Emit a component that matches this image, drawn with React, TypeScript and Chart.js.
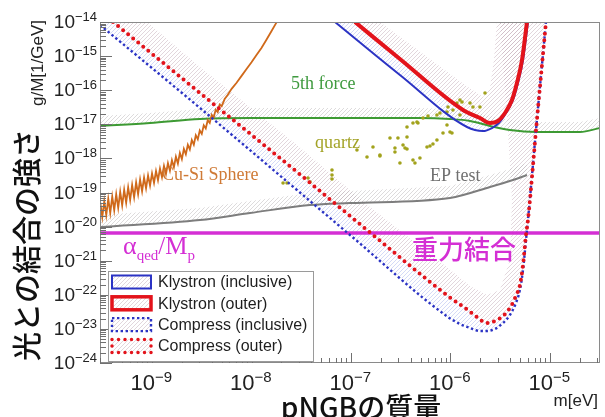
import React, { useEffect, useRef } from "react";
import { Chart, registerables } from "chart.js";

Chart.register(...registerables);

// ---------- axis ranges (log10 of mass [eV] and of g/M [1/GeV]) ----------
const massMinLog = -9.523;
const massMaxLog = -4.497;
const couplingMinLog = -24;
const couplingMaxLog = -14;

const xMajorExponents = [-9, -8, -7, -6, -5];
const xMinorDecades = [-10, -9, -8, -7, -6, -5];
const yMajorExponents = [-14, -15, -16, -17, -18, -19, -20, -21, -22, -23, -24];
const minorMantissas = [2, 3, 4, 5, 6, 7, 8, 9];

// ---------- series (log10 values) ----------
const klystronInclLogM = [-7.161, -6.508, -5.834, -5.673, -5.583, -5.513, -5.442, -5.372, -5.322, -5.271, -5.221];
const klystronInclLogG = [-14.0, -15.554, -17.079, -17.196, -17.109, -16.962, -16.669, -16.287, -15.789, -15.114, -14.0];

const klystronOuterLogM = [-6.96, -6.508, -5.874, -5.704, -5.603, -5.523, -5.452, -5.382, -5.332, -5.281, -5.231];
const klystronOuterLogG = [-14.0, -15.085, -16.581, -16.815, -16.962, -16.903, -16.669, -16.287, -15.789, -15.114, -14.0];

const compressInclLogM = [-9.523, -8.518, -7.543, -7.01, -6.025, -5.905, -5.804, -5.704, -5.633, -5.553, -5.472, -5.402, -5.342, -5.302, -5.271, -5.241, -5.221, -5.131, -5.04];
const compressInclLogG = [-14.088, -16.522, -18.927, -20.246, -22.651, -22.856, -22.973, -23.062, -23.062, -23.003, -22.827, -22.592, -22.24, -21.859, -21.273, -20.393, -19.806, -16.874, -14.0];

const compressOuterLogM = [-9.392, -8.518, -7.543, -6.839, -6.025, -5.854, -5.734, -5.633, -5.553, -5.472, -5.402, -5.342, -5.302, -5.271, -5.241, -5.221, -5.131, -5.04];
const compressOuterLogG = [-14.0, -16.082, -18.399, -20.1, -22.035, -22.387, -22.651, -22.827, -22.768, -22.622, -22.387, -22.035, -21.713, -21.126, -20.246, -19.806, -16.874, -14.0];

// inner edges of the hatched exclusion bands
const compressBandEdgeLogM = [-5.503, -5.422, -5.382, -5.402, -5.503, -5.633, -5.804, -6.025, -6.809, -7.543, -8.518, -9.05];
const compressBandEdgeLogG = [-14.0, -17.167, -19.22, -20.979, -21.859, -22.006, -21.742, -21.214, -19.425, -17.607, -15.32, -14.0];
const klystronBandEdgeLogM = [-5.533, -5.563, -5.603, -5.673, -5.854, -6.709];
const klystronBandEdgeLogG = [-14.0, -15.114, -15.935, -16.199, -15.848, -14.0];

const fifthForceLogM = [-9.523, -9.02, -8.518, -8.015, -7.513, -6.809, -6.307, -6.005, -5.804, -5.603, -5.402, -5.131, -4.698, -4.497];
const fifthForceLogG = [-17.05, -16.962, -16.845, -16.815, -16.815, -16.815, -16.815, -16.845, -16.903, -17.05, -17.167, -17.226, -17.226, -17.109];
const fifthForceBandLogG = [-16.757, -16.669, -16.551, -16.522, -16.522, -16.522, -16.522, -16.551, -16.61, -16.757, -16.874, -16.933, -16.933, -16.815];

const epTestLogM = [-9.523, -8.518, -8.015, -7.412, -7.01, -6.005, -5.603, -5.372, -5.231];
const epTestLogG = [-20.012, -19.806, -19.601, -19.367, -19.308, -19.161, -18.839, -18.633, -18.487];
const epTestBandLogG = [-19.66, -19.455, -19.249, -19.015, -18.956, -18.809, -18.487, -18.282, -18.135];

const cuSiLogM = [
  -9.52, -9.5, -9.48, -9.46, -9.44, -9.42, -9.4, -9.38, -9.36, -9.34, -9.32, -9.3, -9.28, -9.26, -9.24, -9.22, -9.2, -9.18,
  -9.16, -9.14, -9.12, -9.1, -9.08, -9.06, -9.04, -9.02, -9.0, -8.98, -8.96, -8.94, -8.92, -8.9, -8.88, -8.86, -8.84, -8.82,
  -8.8, -8.78, -8.76, -8.74, -8.72, -8.7, -8.68, -8.66, -8.64, -8.62, -8.6, -8.58, -8.56, -8.54, -8.52, -8.5, -8.48, -8.46,
  -8.44, -8.42, -8.4, -8.38, -8.36, -8.34, -8.32, -8.3, -8.27, -8.24, -8.2, -8.15, -8.1, -8.05, -8.0, -7.95, -7.9, -7.85,
  -7.8, -7.75, -7.7, -7.65,
];
const cuSiLogG = [
  -19.3, -19.72, -19.25, -19.66, -19.18, -19.6, -19.12, -19.52, -19.05, -19.45, -18.98, -19.38, -18.92, -19.3, -18.85, -19.22, -18.78, -19.14,
  -18.7, -19.05, -18.62, -18.96, -18.56, -18.88, -18.5, -18.8, -18.44, -18.72, -18.37, -18.64, -18.3, -18.55, -18.22, -18.46, -18.14, -18.36,
  -18.05, -18.26, -17.95, -18.15, -17.84, -18.02, -17.72, -17.88, -17.6, -17.74, -17.46, -17.6, -17.32, -17.44, -17.18, -17.28, -17.03, -17.12,
  -16.88, -16.96, -16.72, -16.8, -16.57, -16.64, -16.42, -16.47, -16.26, -16.14, -15.96, -15.78, -15.58, -15.38, -15.18, -14.97, -14.76, -14.52,
  -14.27, -14.02, -13.75, -13.45,
];

const quartzLogM = [
  -7.683, -7.643, -7.432, -7.412, -7.191, -7.191, -7.191, -6.94, -6.839, -6.779, -6.709, -6.608, -6.528, -6.437, -6.558, -6.477, -6.437,
  -6.508, -6.357, -6.307, -6.236, -6.206, -6.176, -6.075, -6.005, -5.985, -6.377, -6.337, -6.437, -6.276, -6.226, -6.136, -6.106, -6.035,
  -6.025, -5.975, -5.905, -5.884, -5.935, -5.653, -5.804, -5.774, -5.704, -5.905, -6.327, -6.558, -6.709, -6.377, -6.457, -6.136, -6.035,
];
const quartzLogG = [
  -18.721, -18.721, -18.575, -18.692, -18.34, -18.487, -18.604, -17.754, -17.959, -17.666, -17.93, -17.402, -17.402, -17.372, -17.695, -17.607, -17.724,
  -18.135, -18.135, -17.988, -17.666, -17.636, -17.578, -17.255, -17.226, -17.255, -16.962, -16.933, -17.079, -16.815, -16.757, -16.727, -16.669, -16.639,
  -16.493, -16.581, -16.727, -16.346, -16.375, -16.082, -16.375, -16.493, -16.493, -16.287, -16.962, -17.812, -17.9, -18.047, -17.695, -17.46, -17.021,
];

const gravityLogG = -20.188;

// text annotations: log10 mass (left edge), log10 g/M (baseline)
const fifthForceLabel = { text: "5th force", logM: -7.603, logG: -15.965 };
const quartzLabel = { text: "quartz", logM: -7.362, logG: -17.695 };
const cuSiLabel = { text: "Cu-Si Sphere", logM: -8.899, logG: -18.633 };
const epLabel = { text: "EP test", logM: -6.206, logG: -18.663 };
const alphaLabel = { logM: -9.291, logG: -20.804 };
const gravityLabel = { text: "重力結合", logM: -6.387, logG: -20.95 };

// ---------- colours & fonts ----------
const BLUE = "#2b33c4";
const RED = "#e3131b";
const GREEN = "#3d9a33";
const ORANGE = "#d0691a";
const GRAY = "#7d7d7d";
const MAGENTA = "#d42fd4";
const OLIVE = "#a2a21c";
const SANS = "'Liberation Sans', Arial, sans-serif";
const SERIF = "'Liberation Serif', 'Times New Roman', serif";
const CJK = "'Noto Sans CJK JP', 'Noto Sans CJK SC', sans-serif";

const pow10 = (v: number) => Math.pow(10, v);
const toPoints = (lm: number[], lg: number[]) => lm.map((m, i) => ({ x: pow10(m), y: pow10(lg[i]) }));

function makeHatch(ctx: CanvasRenderingContext2D, color: string, step: number, width: number) {
  const c = document.createElement("canvas");
  c.width = step;
  c.height = step;
  const g = c.getContext("2d")!;
  g.fillStyle = "rgba(255,255,255,0)";
  g.clearRect(0, 0, step, step);
  g.strokeStyle = color;
  g.lineWidth = width;
  g.beginPath();
  g.moveTo(0, step);
  g.lineTo(step, 0);
  g.moveTo(-1, 1);
  g.lineTo(1, -1);
  g.moveTo(step - 1, step + 1);
  g.lineTo(step + 1, step - 1);
  g.stroke();
  return ctx.createPattern(c, "repeat")!;
}

export default function App() {
  const ref = useRef<HTMLCanvasElement>(null);

  useEffect(() => {
    document.body.style.margin = "0";
    const canvas = ref.current!;
    const ctx0 = canvas.getContext("2d")!;
    const patterns: Record<string, CanvasPattern> = {
      pink: makeHatch(ctx0, "rgba(190,165,178,0.45)", 4, 1),
      blue: makeHatch(ctx0, "rgba(160,172,235,0.45)", 4, 1),
      gray: makeHatch(ctx0, "rgba(180,176,178,0.45)", 4, 1),
    };

    const klystronIncl = toPoints(klystronInclLogM, klystronInclLogG);
    const klystronOuter = toPoints(klystronOuterLogM, klystronOuterLogG);
    const compressIncl = toPoints(compressInclLogM, compressInclLogG);
    const compressOuter = toPoints(compressOuterLogM, compressOuterLogG);
    const fifth = toPoints(fifthForceLogM, fifthForceLogG);
    const ep = toPoints(epTestLogM, epTestLogG);

    const base = { pointRadius: 0, fill: false, cubicInterpolationMode: "monotone" };
    const band = (data: any[], hatch: string) => ({ data, hatch, showLine: false, pointRadius: 0, order: 20 });

    const datasets: any[] = [
      { ...base, label: "Klystron (inclusive)", data: klystronIncl, borderColor: BLUE, borderWidth: 2, order: 1, legendEntry: true },
      { ...base, label: "Klystron (outer)", data: klystronOuter, borderColor: RED, borderWidth: 4, order: 0, legendEntry: true },
      { ...base, label: "Compress (inclusive)", data: compressIncl, borderColor: BLUE, borderWidth: 2.4, borderDash: [2.4, 2.6], order: 3, legendEntry: true },
      { ...base, label: "Compress (outer)", data: compressOuter, borderColor: RED, borderWidth: 4, borderDash: [0, 6.5], borderCapStyle: "round", order: 2, legendEntry: true },
      { ...base, label: "alpha/Mp", data: [{ x: pow10(massMinLog), y: pow10(gravityLogG) }, { x: pow10(massMaxLog), y: pow10(gravityLogG) }], borderColor: MAGENTA, borderWidth: 3.5, order: 4 },
      { label: "quartz", data: toPoints(quartzLogM, quartzLogG), showLine: false, pointRadius: 1.8, pointBackgroundColor: OLIVE, pointBorderWidth: 0, order: 5 },
      { ...base, cubicInterpolationMode: "default", tension: 0, label: "Cu-Si Sphere", data: toPoints(cuSiLogM, cuSiLogG), borderColor: ORANGE, borderWidth: 1.8, order: 6 },
      { ...base, label: "EP test", data: ep, borderColor: GRAY, borderWidth: 2, order: 7 },
      { ...base, label: "5th force", data: fifth, borderColor: GREEN, borderWidth: 2, order: 8 },
      band(compressOuter.concat(toPoints(compressBandEdgeLogM, compressBandEdgeLogG)), "pink"),
      band(compressIncl.concat(compressOuter.slice().reverse()), "blue"),
      band(klystronOuter.concat(toPoints(klystronBandEdgeLogM, klystronBandEdgeLogG)), "pink"),
      band(klystronIncl.concat(klystronOuter.slice().reverse()), "blue"),
      band(fifth.concat(toPoints(fifthForceLogM, fifthForceBandLogG).reverse()), "gray"),
      band(ep.concat(toPoints(epTestLogM, epTestBandLogG).reverse()), "gray"),
    ];

    const hatchPlugin = {
      id: "hatchBands",
      beforeDatasetsDraw(chart: any) {
        const { ctx, chartArea: a } = chart;
        ctx.save();
        ctx.beginPath();
        ctx.rect(a.left, a.top, a.right - a.left, a.bottom - a.top);
        ctx.clip();
        chart.data.datasets.forEach((ds: any, i: number) => {
          if (!ds.hatch) return;
          const pts = chart.getDatasetMeta(i).data;
          if (!pts.length) return;
          ctx.beginPath();
          pts.forEach((p: any, k: number) => (k ? ctx.lineTo(p.x, p.y) : ctx.moveTo(p.x, p.y)));
          ctx.closePath();
          ctx.fillStyle = patterns[ds.hatch];
          ctx.fill();
        });
        ctx.restore();
      },
    };

    const decorPlugin = {
      id: "rootDecor",
      afterDatasetsDraw(chart: any) {
        const { ctx, chartArea: a, scales } = chart;
        const xs = scales.x;
        const ys = scales.y;
        const px = (lm: number) => xs.getPixelForValue(pow10(lm));
        const py = (lg: number) => ys.getPixelForValue(pow10(lg));
        ctx.save();

        // annotations inside the frame
        ctx.textBaseline = "alphabetic";
        ctx.textAlign = "left";
        const serifLabel = (l: any, color: string) => {
          ctx.font = `18px ${SERIF}`;
          ctx.fillStyle = color;
          ctx.fillText(l.text, px(l.logM), py(l.logG));
        };
        serifLabel(fifthForceLabel, "#3f9a3f");
        serifLabel(quartzLabel, "#a3a327");
        serifLabel(cuSiLabel, "#cf7a36");
        serifLabel(epLabel, "#707070");

        // alpha_qed / M_p
        ctx.fillStyle = MAGENTA;
        let ax = px(alphaLabel.logM);
        const ay = py(alphaLabel.logG);
        const parts: [string, number, number][] = [["α", 26, 0], ["qed", 15, 6], ["/M", 25, 0], ["p", 15, 6]];
        for (const [t, s, dy] of parts) {
          ctx.font = `${s}px ${SERIF}`;
          ctx.fillText(t, ax, ay + dy);
          ax += ctx.measureText(t).width;
        }
        ctx.font = `500 26px ${CJK}`;
        ctx.fillText(gravityLabel.text, px(gravityLabel.logM), py(gravityLabel.logG));

        // frame
        ctx.strokeStyle = "#8a8a8a";
        ctx.lineWidth = 1;
        ctx.strokeRect(a.left + 0.5, a.top + 0.5, a.right - a.left - 1, a.bottom - a.top - 1);

        // ticks
        ctx.strokeStyle = "#707070";
        ctx.beginPath();
        for (const e of yMajorExponents) {
          const y = Math.round(py(e)) + 0.5;
          ctx.moveTo(a.left, y);
          ctx.lineTo(a.left + 12, y);
          if (e < couplingMaxLog) {
            for (const m of minorMantissas) {
              const yy = Math.round(ys.getPixelForValue(m * pow10(e))) + 0.5;
              ctx.moveTo(a.left, yy);
              ctx.lineTo(a.left + 6, yy);
            }
          }
        }
        for (const e of xMajorExponents) {
          const x = Math.round(px(e)) + 0.5;
          ctx.moveTo(x, a.bottom);
          ctx.lineTo(x, a.bottom - 10);
        }
        for (const e of xMinorDecades) {
          for (const m of minorMantissas) {
            const v = m * pow10(e);
            if (v <= pow10(massMinLog) || v >= pow10(massMaxLog)) continue;
            const x = Math.round(xs.getPixelForValue(v)) + 0.5;
            ctx.moveTo(x, a.bottom);
            ctx.lineTo(x, a.bottom - 5);
          }
        }
        ctx.stroke();

        // tick labels
        ctx.fillStyle = "#222";
        for (const e of yMajorExponents) {
          const y = py(e);
          const sup = "\u2212" + Math.abs(e);
          ctx.font = `13px ${SANS}`;
          const sw = ctx.measureText(sup).width;
          ctx.font = `19px ${SANS}`;
          const bw = ctx.measureText("10").width;
          const right = a.left - 3;
          ctx.fillText("10", right - sw - bw, y + 6);
          ctx.font = `13px ${SANS}`;
          ctx.fillText(sup, right - sw, y - 1);
        }
        for (const e of xMajorExponents) {
          const x = px(e);
          ctx.font = `22px ${SANS}`;
          const bw = ctx.measureText("10").width;
          ctx.fillText("10", x + 3 - bw, a.bottom + 27);
          ctx.font = `15px ${SANS}`;
          ctx.fillText("\u2212" + Math.abs(e), x + 3, a.bottom + 19);
        }

        // axis titles
        ctx.font = `17px ${SANS}`;
        ctx.textAlign = "right";
        ctx.fillText("m[eV]", a.right - 2, a.bottom + 43);
        ctx.textAlign = "center";
        ctx.fillStyle = "#111";
        ctx.font = `500 28px ${CJK}`;
        ctx.fillText("pNGBの質量", 361, 418);

        ctx.save();
        ctx.translate(27, 245);
        ctx.rotate(-Math.PI / 2);
        ctx.textBaseline = "middle";
        ctx.font = `500 29px ${CJK}`;
        ctx.fillText("光との結合の強さ", 0, 0);
        ctx.restore();

        ctx.save();
        ctx.translate(38, 20);
        ctx.rotate(-Math.PI / 2);
        ctx.textBaseline = "middle";
        ctx.textAlign = "right";
        ctx.font = `17px ${SANS}`;
        ctx.fillStyle = "#222";
        ctx.fillText("g/M[1/GeV]", 0, 0);
        ctx.restore();

        // legend
        const entries = chart.data.datasets.filter((d: any) => d.legendEntry);
        const lx = 108, ly = 271, lw = 205, lh = 90;
        ctx.fillStyle = "#fff";
        ctx.fillRect(lx, ly, lw, lh);
        ctx.strokeStyle = "#9a9a9a";
        ctx.lineWidth = 1;
        ctx.strokeRect(lx + 0.5, ly + 0.5, lw, lh);
        entries.forEach((d: any, i: number) => {
          const cy = 282 + i * 21.3;
          const rx = 112, rw = 39, rh = 13;
          ctx.fillStyle = patterns.pink;
          ctx.fillRect(rx, cy - rh / 2, rw, rh);
          ctx.save();
          ctx.strokeStyle = d.borderColor;
          ctx.lineWidth = Math.min(d.borderWidth, 3.5);
          ctx.setLineDash(d.borderDash || []);
          ctx.lineCap = d.borderCapStyle || "butt";
          ctx.strokeRect(rx, cy - rh / 2, rw, rh);
          ctx.restore();
          ctx.fillStyle = "#1e1e1e";
          ctx.font = `16px ${SANS}`;
          ctx.textAlign = "left";
          ctx.textBaseline = "middle";
          ctx.fillText(d.label, 158, cy + 1);
        });

        ctx.restore();
      },
    };

    const chart = new Chart(canvas, {
      type: "line",
      data: { datasets },
      options: {
        responsive: false,
        animation: false,
        events: [],
        layout: { padding: { left: 100, right: 5, top: 22, bottom: 54 } },
        plugins: { legend: { display: false }, tooltip: { enabled: false } },
        scales: {
          x: {
            type: "logarithmic",
            min: pow10(massMinLog),
            max: pow10(massMaxLog),
            ticks: { display: false },
            grid: { display: false },
            border: { display: false },
            afterFit: (s: any) => { s.height = 0; },
          },
          y: {
            type: "logarithmic",
            min: pow10(couplingMinLog),
            max: pow10(couplingMaxLog),
            ticks: { display: false },
            grid: { display: false },
            border: { display: false },
            afterFit: (s: any) => { s.width = 0; },
          },
        },
      } as any,
      plugins: [hatchPlugin, decorPlugin],
    });
    return () => chart.destroy();
  }, []);

  return <canvas ref={ref} width={605} height={417} style={{ display: "block" }} />;
}
